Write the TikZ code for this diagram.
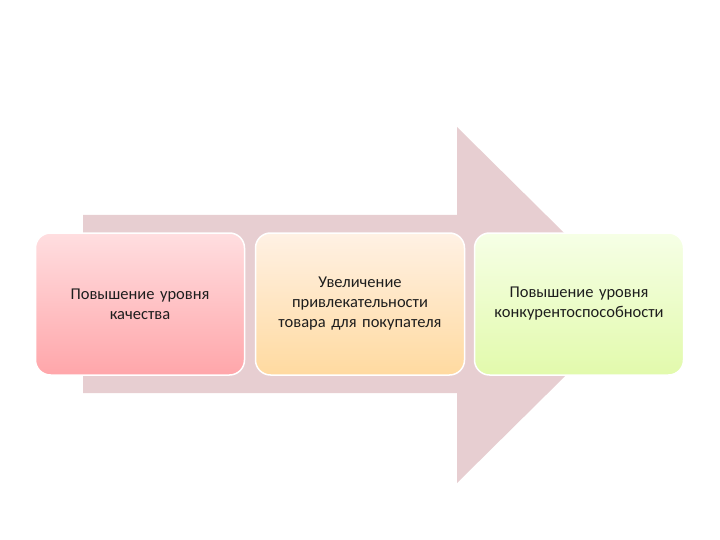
\documentclass[tikz,border=0pt]{standalone}
\usepackage{fontspec}
\setmainfont{Carlito}

\definecolor{arrowfill}{RGB}{231,206,209}
\definecolor{textgray}{RGB}{30,30,30}

\begin{document}
\begin{tikzpicture}[x=1pt, y=-1pt,
          stage/.style={rounded corners=15pt, minimum width=209pt, minimum height=142pt, text width=195pt, align=center, font=\fontsize{16.5}{20}\selectfont, text=textgray, draw=white, line width=1.5pt},
          bigarrow/.style={fill=arrowfill, draw=none}
        ]
          \useasboundingbox (0,0) rectangle (720,540);

          % Background arrow
          \node[inner sep=0pt] (tip) at (637,305) {};
          \fill[arrowfill] (83,215) -- (457,215) -- (457,127) -- (tip.center) -- (457,483) -- (457,393) -- (83,393) -- cycle;

          % Stages
          \node[stage, top color={rgb,255:red,255;green,222;blue,224}, bottom color={rgb,255:red,255;green,166;blue,170}] (quality) at (140,304) {Повышение уровня\\качества};
          \node[stage, top color={rgb,255:red,255;green,241;blue,228}, bottom color={rgb,255:red,255;green,218;blue,160}] (appeal) at (360,304) {Увеличение\\привлекательности\\товара для покупателя};
          \node[stage, top color={rgb,255:red,246;green,255;blue,230}, bottom color={rgb,255:red,226;green,250;blue,172}] (compet) at (579,304) {Повышение уровня\\конкурентоспособности};
        \end{tikzpicture}
\end{document}
